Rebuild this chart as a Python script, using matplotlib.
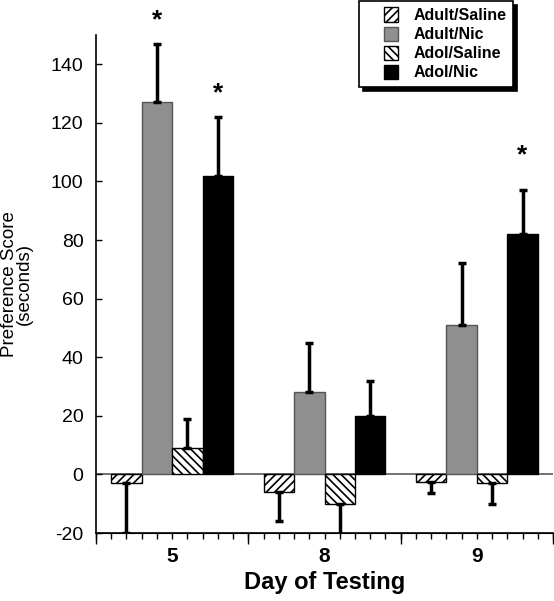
import numpy as np
import matplotlib
matplotlib.use('Agg')
import matplotlib.pyplot as plt
from matplotlib.ticker import MultipleLocator
from matplotlib.patches import Rectangle
from matplotlib.legend_handler import HandlerPatch

plt.rcParams['font.family'] = ['Liberation Sans', 'DejaVu Sans']
plt.rcParams['hatch.linewidth'] = 1.2
plt.rcParams['axes.unicode_minus'] = False

days = ['5', '8', '9']
groups = ['Adult/Saline', 'Adult/Nic', 'Adol/Saline', 'Adol/Nic']

adult_saline = [-3, -6, -2.5]
adult_saline_err = [17, 10, 4]
adult_nic = [127, 28, 51]
adult_nic_err = [20, 17, 21]
adol_saline = [9, -10, -3]
adol_saline_err = [10, 14, 7]
adol_nic = [102, 20, 82]
adol_nic_err = [20, 12, 15]

# asterisks: (day index, group index, y)
stars = [(0, 1, 155), (0, 3, 130), (2, 3, 109)]

values = [adult_saline, adult_nic, adol_saline, adol_nic]
errors = [adult_saline_err, adult_nic_err, adol_saline_err, adol_nic_err]
faces = ['white', '#8f8f8f', 'white', 'black']
edges = ['black', '#555555', 'black', 'black']
hatches = ['////', None, '\\\\\\\\', None]


def square_right(legend, orig_handle, xdescent, ydescent, width, height, fontsize):
    # square swatch pushed to the right end of the handle slot
    return Rectangle((width - height - xdescent, -ydescent), height, height)


fig = plt.figure(figsize=(5.54, 6.01), dpi=100)
ax = fig.add_axes([96 / 554, 1 - 533 / 601, 457 / 554, 498 / 601])

x = np.arange(len(days)) + 0.5
width = 0.2
offsets = [-0.3, -0.1, 0.1, 0.3]

ax.axhline(0, color='#666666', lw=1.3, zorder=1)

bars = []
for vals, errs, fc, ec, h, off, name in zip(values, errors, faces, edges, hatches, offsets, groups):
    vals = np.array(vals)
    errs = np.array(errs)
    lower = np.where(vals < 0, errs, 0)
    upper = np.where(vals >= 0, errs, 0)
    b = ax.bar(x + off, vals, width, color=fc, edgecolor=ec, hatch=h, lw=1.0,
               label=name, zorder=2)
    bars.append(b)
    ax.errorbar(x + off, vals, yerr=[lower, upper], fmt='none', ecolor='black',
                elinewidth=2.5, capsize=3, capthick=2.5, zorder=3)

for d, g, y in stars:
    ax.text(x[d] + offsets[g], y, '*', ha='center', va='center',
            fontsize=19, fontweight='bold', clip_on=False)

ax.set_xlim(0, 3)
ax.set_ylim(-20, 150)
ax.set_yticks(np.arange(-20, 141, 20))
ax.tick_params(axis='y', direction='in', length=4, width=1, pad=9, labelsize=14)
ax.set_xticks(x)
ax.set_xticklabels(days, fontsize=15, fontweight='bold')
ax.xaxis.set_minor_locator(MultipleLocator(0.1))
ax.tick_params(axis='x', which='both', direction='out', length=4, width=1, pad=6)

sec = ax.secondary_xaxis('bottom')
sec.set_xticks([0, 1, 2, 3])
sec.set_xticklabels([])
sec.tick_params(length=8, width=1)

for s in ['top', 'right']:
    ax.spines[s].set_visible(False)
ax.spines['left'].set_linewidth(1.2)
ax.spines['bottom'].set_linewidth(1.2)

ax.set_xlabel('Day of Testing', fontsize=17, fontweight='bold', labelpad=4)
ax.set_ylabel('Preference Score\n(seconds)', fontsize=13.5, linespacing=0.85)
ax.yaxis.set_label_coords(-0.138, 0.5)

leg = fig.legend(handles=[b[0] for b in bars], labels=groups,
                 handler_map={Rectangle: HandlerPatch(patch_func=square_right)},
                 loc='upper left', bbox_to_anchor=(359 / 554, 1 - 1 / 601),
                 borderaxespad=0, fancybox=False, edgecolor='black', framealpha=1,
                 shadow={'color': 'black', 'alpha': 1, 'ox': 3, 'oy': -3},
                 prop={'weight': 'bold', 'size': 11.5},
                 handlelength=2.05, handleheight=1.0, handletextpad=0.95,
                 labelspacing=0.22, borderpad=0.4)
leg.get_frame().set_linewidth(1.2)

fig.savefig('out.png', dpi=100)
